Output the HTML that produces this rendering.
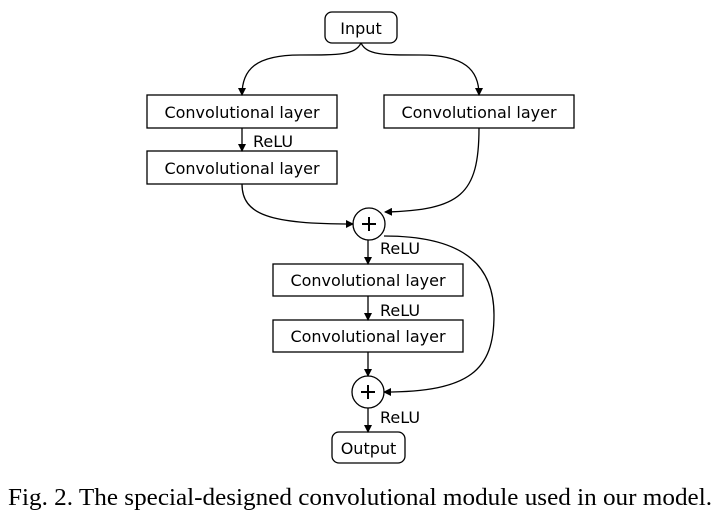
<!DOCTYPE html>
<html><head><style>
body{margin:0;width:722px;height:516px;background:#fff;overflow:hidden}
svg text{font-family:"DejaVu Sans","Liberation Sans",sans-serif;font-size:16px;fill:#000}
</style></head><body>
<svg width="722" height="516" xmlns="http://www.w3.org/2000/svg">
<defs><marker id="a" markerWidth="8" markerHeight="8" refX="7" refY="4" orient="auto" markerUnits="userSpaceOnUse"><path d="M0,0 L8,4 L0,8 z" fill="#000"/></marker></defs>
<g fill="none" stroke="#000" stroke-width="1.3">
<rect x="325" y="12" width="72" height="31" rx="7"/>
<rect x="147" y="95" width="190" height="33"/>
<rect x="384" y="95" width="190" height="33"/>
<rect x="147" y="151" width="190" height="33"/>
<circle cx="369" cy="224" r="16"/>
<rect x="273" y="264" width="190" height="32"/>
<rect x="273" y="320" width="190" height="32"/>
<circle cx="368" cy="392" r="16"/>
<rect x="332" y="432" width="73" height="31" rx="7"/>
<path d="M361,43 C355,55 340,55 300,55 C255,55 242,70 242,95" marker-end="url(#a)"/>
<path d="M361,43 C367,55 382,55 420,55 C465,55 479,70 479,95" marker-end="url(#a)"/>
<path d="M242,128 L242,151" marker-end="url(#a)"/>
<path d="M242,184 C242,215 270,224 353,224" marker-end="url(#a)"/>
<path d="M479,128 C479,195 460,210 385,212" marker-end="url(#a)"/>
<path d="M368,240 L368,264" marker-end="url(#a)"/>
<path d="M368,296 L368,320" marker-end="url(#a)"/>
<path d="M368,352 L368,376" marker-end="url(#a)"/>
<path d="M368,408 L368,432" marker-end="url(#a)"/>
<path d="M384,236 C470,236 494,270 494,315 C494,370 470,392 384,392" marker-end="url(#a)"/>
</g>
<g stroke="#000" stroke-width="2"><path d="M362,224 H376 M369,217 V231 M361,392 H375 M368,385 V399"/></g>
<text x="361" y="34" text-anchor="middle">Input</text>
<text x="242" y="118" text-anchor="middle">Convolutional layer</text>
<text x="479" y="118" text-anchor="middle">Convolutional layer</text>
<text x="242" y="174" text-anchor="middle">Convolutional layer</text>
<text x="368" y="286" text-anchor="middle">Convolutional layer</text>
<text x="368" y="342" text-anchor="middle">Convolutional layer</text>
<text x="368.5" y="454" text-anchor="middle">Output</text>
<text x="253" y="147">ReLU</text>
<text x="380" y="254">ReLU</text>
<text x="380" y="316">ReLU</text>
<text x="380" y="423">ReLU</text>
<text x="8" y="505" textLength="704" lengthAdjust="spacingAndGlyphs" style="font-family:'Liberation Serif',serif;font-size:24px">Fig. 2. The special-designed convolutional module used in our model.</text>
</svg>
</body></html>
